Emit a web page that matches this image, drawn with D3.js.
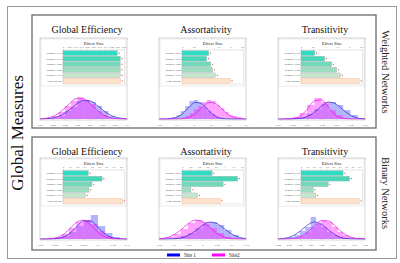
<!DOCTYPE html>
<html><head><meta charset="utf-8">
<script src="https://cdn.jsdelivr.net/npm/d3@7"></script>
<style>body{margin:0;background:#fff}svg{display:block;font-family:"Liberation Serif","Times New Roman",serif}</style>
</head><body><svg id="c" width="400" height="263"></svg>
<script>
// ---------- data ----------
const measures = ["Global Efficiency", "Assortativity", "Transitivity"];
const networks = ["Weighted Networks", "Binary Networks"];
const sites = ["Site 1", "Site2"];
const densityLabels = ["Density: 0.10", "Density: 0.15", "Density: 0.20", "Density: 0.25", "Density: 0.30", "Non-Thresh."];

// effect sizes (inset bars)
const effW_GE = [0.45, 0.475, 0.475, 0.475, 0.475, 0.475];
const effW_AS = [1.11, 1.02, 1.19, 1.27, 1.39, 2.0];
const effW_TR = [0.57, 0.98, 1.27, 1.48, 1.64, 2.42];
const effB_GE = [0.35, 0.54, 0.40, 0.36, 0.31, 0.82];
const effB_AS = [0.71, 1.31, 0.97, 0.21, 0.37, 0.90];
const effB_TR = [0.65, 0.75, 0.42, 0.19, 0.23, 0.90];

// effect-size axis tick labels
const effTicksW_GE = ["0","0.05","0.10","0.15","0.20","0.25","0.30","0.35","0.40","0.45","0.50"];
const effTicksW_AS = ["0","0.5","1","1.5","2","2.5"];
const effTicksW_TR = ["0","0.5","1","1.5","2","2.5"];
const effTicksB_GE = ["0","0.1","0.2","0.3","0.4","0.5","0.6","0.7","0.8"];
const effTicksB_AS = ["0","0.2","0.4","0.6","0.8","1","1.2","1.4"];
const effTicksB_TR = ["0","0.1","0.2","0.3","0.4","0.5","0.6","0.7","0.8","0.9"];

// histogram x-axis tick labels
const histTicksW_GE = ["0.23","0.24","0.25","0.26","0.27","0.28","0.29","0.3"];
const histTicksW_AS = ["-0.2","-0.1","0","0.1","0.2","0.3"];
const histTicksW_TR = ["0.01","0.02","0.03","0.04","0.05","0.06","0.07"];
const histTicksB_GE = ["0.08","0.085","0.09","0.095","0.1","0.105","0.11"];
const histTicksB_AS = ["-0.15","-0.1","-0.05","0","0.05","0.1","0.15"];
const histTicksB_TR = ["0.44","0.45","0.46","0.47","0.48","0.49","0.5","0.51","0.52"];

// histogram bins (start, width) and counts per site
const binsW_GE = [0.23, 0.005];
const histW_GE_s1 = [0,1,1,3,8,12,18,19,17,13,8,3,1,0];
const histW_GE_s2 = [0,1,3,7,13,18,22,19,15,8,4,1,0,0];
const binsW_AS = [-0.2, 0.025];
const histW_AS_s1 = [0,0,1,2,4,8,13,18,19,17,12,8,5,2,1,0,0,0,0,0];
const histW_AS_s2 = [0,0,0,0,0,1,3,6,10,13,17,19,18,14,11,7,4,3,2,0];
const binsW_TR = [0.01, 0.005];
const histW_TR_s1 = [0,0,1,2,5,10,15,17,14,9,4,1];
const histW_TR_s2 = [0,1,2,6,14,21,17,9,4,1,0,0];
const binsB_GE = [0.08, 0.0025];
const histB_GE_s1 = [0,0,1,3,7,13,19,24,13,6,2,0];
const histB_GE_s2 = [0,1,2,5,11,17,19,15,8,3,1,0];
const binsB_AS = [-0.15, 0.025];
const histB_AS_s1 = [0,0,1,3,6,11,15,17,14,9,4,1];
const histB_AS_s2 = [1,2,5,10,16,19,17,11,6,2,1,0];
const binsB_TR = [0.44, 0.005];
const histB_TR_s1 = [0,1,2,4,8,12,22,15,12,7,4,2,1,0,0,0];
const histB_TR_s2 = [0,0,0,1,3,7,12,16,19,17,12,7,4,2,1,1];

// density curves, read at 13 evenly spaced points across each x-axis
const curveW_GE_s1 = [0.1,0.4,1.4,4.0,8.8,14.8,18.7,17.9,12.9,7.0,2.9,0.9,0.2];
const curveW_GE_s2 = [0.2,0.9,3.3,8.1,14.8,20.3,20.2,14.7,7.9,3.1,0.9,0.2,0.0];
const curveW_AS_s1 = [0,0.1,0.8,3.8,10.6,16.6,14.7,7.3,2.0,0.3,0,0,0];
const curveW_AS_s2 = [0,0,0,0.2,1.4,5.3,12.0,16.8,14.6,7.8,2.6,0.5,0.1];
const curveW_TR_s1 = [0,0,0.1,0.5,2.3,6.6,12.8,16.9,15.0,9.0,3.7,1.0,0.2];
const curveW_TR_s2 = [0,0,0.4,2.7,9.4,18.0,19.1,11.2,3.6,0.6,0.1,0,0];
const curveB_GE_s1 = [0,0,0.2,1.4,5.0,11.9,18.1,18.0,11.5,4.8,1.3,0.2,0];
const curveB_GE_s2 = [0,0.1,0.8,3.5,9.5,16.5,18.8,13.9,6.6,2.0,0.4,0.1,0];
const curveB_AS_s1 = [0,0,0.3,1.1,3.5,8.0,13.6,16.9,15.4,10.3,5.0,1.8,0.5];
const curveB_AS_s2 = [0.3,1.2,3.9,9.0,15.2,18.9,17.3,11.5,5.6,2.1,0.6,0.1,0];
const curveB_TR_s1 = [0.1,0.8,2.9,7.6,13.6,17.0,14.7,8.8,3.6,1.0,0.2,0,0];
const curveB_TR_s2 = [0,0.1,0.5,2.1,6.3,12.9,18.3,18.0,12.2,5.7,1.9,0.4,0.1];

// ---------- styles ----------
const barColors = ["#2fdcc2", "#48d7b6", "#74d9bb", "#9ddcbf", "#c6e7ce", "#fde2cc"];
const barStrokes = ["#9aa", "#9aa", "#9aa", "#9aa", "#aab", "#f2a878"];
const siteFill = ["#5a5aff", "#ff2cff"];
const siteLine = ["#2424d0", "#e010e0"];

const rows = [
  { net: networks[0], py: 15, fy: 38, ty: 32.5, ny: 72, charts: [
    { eff: effW_GE, et: effTicksW_GE, emax: 0.51, ht: histTicksW_GE, bins: binsW_GE, s1: histW_GE_s1, s2: histW_GE_s2, c1: curveW_GE_s1, c2: curveW_GE_s2 },
    { eff: effW_AS, et: effTicksW_AS, emax: 2.55, ht: histTicksW_AS, bins: binsW_AS, s1: histW_AS_s1, s2: histW_AS_s2, c1: curveW_AS_s1, c2: curveW_AS_s2 },
    { eff: effW_TR, et: effTicksW_TR, emax: 2.55, ht: histTicksW_TR, bins: binsW_TR, s1: histW_TR_s1, s2: histW_TR_s2, c1: curveW_TR_s1, c2: curveW_TR_s2 } ] },
  { net: networks[1], py: 137, fy: 158, ty: 155, ny: 193, charts: [
    { eff: effB_GE, et: effTicksB_GE, emax: 0.85, ht: histTicksB_GE, bins: binsB_GE, s1: histB_GE_s1, s2: histB_GE_s2, c1: curveB_GE_s1, c2: curveB_GE_s2 },
    { eff: effB_AS, et: effTicksB_AS, emax: 1.45, ht: histTicksB_AS, bins: binsB_AS, s1: histB_AS_s1, s2: histB_AS_s2, c1: curveB_AS_s1, c2: curveB_AS_s2 },
    { eff: effB_TR, et: effTicksB_TR, emax: 0.95, ht: histTicksB_TR, bins: binsB_TR, s1: histB_TR_s1, s2: histB_TR_s2, c1: curveB_TR_s1, c2: curveB_TR_s2 } ] }
];
const colX = [40, 159, 278];
const FW = 87, FH = 82;

const svg = d3.select("#c");

// outer frame
svg.append("rect").attr("x", 7.5).attr("y", 6.5).attr("width", 389).attr("height", 252)
  .attr("fill", "none").attr("stroke", "#9a9a9a").attr("stroke-width", 1);

svg.append("text").attr("transform", "translate(17,133) rotate(-90)")
  .attr("text-anchor", "middle").attr("dy", "0.35em").attr("font-size", 17).attr("fill", "#111")
  .text("Global Measures");

rows.forEach(row => {
  svg.append("rect").attr("x", 32).attr("y", row.py).attr("width", 344).attr("height", 113)
    .attr("fill", "none").attr("stroke", "#6a6a6a").attr("stroke-width", 1.3);
  svg.append("text").attr("transform", `translate(386,${row.ny}) rotate(90)`)
    .attr("text-anchor", "middle").attr("dy", "0.35em").attr("font-size", 10.5).attr("fill", "#222")
    .text(row.net);

  row.charts.forEach((ch, ci) => {
    const fx = colX[ci], fy = row.fy;
    const g = svg.append("g");
    // title
    g.append("text").attr("x", fx + 47).attr("y", row.ty).attr("text-anchor", "middle")
      .attr("font-size", 10).attr("fill", "#111").text(measures[ci]);

    // histogram axes
    const tv = ch.ht.map(Number);
    const x = d3.scaleLinear().domain([tv[0], tv[tv.length - 1]]).range([fx, fx + FW]);
    const base = fy + FH - 1;
    const y = d3.scaleLinear().domain([0, 26]).range([base, base - 26]);

    [ch.s1, ch.s2].forEach((cnt, si) => {
      g.append("g").selectAll("rect").data(cnt).join("rect")
        .attr("x", (d, i) => x(ch.bins[0] + i * ch.bins[1]))
        .attr("width", x(ch.bins[0] + ch.bins[1]) - x(ch.bins[0]))
        .attr("y", d => y(d)).attr("height", d => base - y(d))
        .attr("fill", siteFill[si]).attr("fill-opacity", 0.45);
    });
    const dx = (tv[tv.length - 1] - tv[0]) / 12;
    [ch.c1, ch.c2].forEach((cv, si) => {
      const line = d3.line().x((d, i) => x(tv[0] + i * dx)).y(d => y(d)).curve(d3.curveMonotoneX);
      g.append("path").attr("d", line(cv)).attr("fill", "none")
        .attr("stroke", siteLine[si]).attr("stroke-width", 0.7);
    });

    // frame
    g.append("rect").attr("x", fx).attr("y", fy).attr("width", FW).attr("height", FH)
      .attr("fill", "none").attr("stroke", "#c4c4c4").attr("stroke-width", 0.7);
    const xa = g.append("g").attr("transform", `translate(0,${fy + FH})`)
      .call(d3.axisBottom(x).tickValues(tv).tickSize(-1.5).tickFormat((d, i) => ch.ht[i]));
    xa.select(".domain").remove();
    xa.selectAll("line").attr("stroke", "#aaa").attr("stroke-width", 0.4);
    xa.selectAll("text").attr("font-size", 2.9).attr("fill", "#444").attr("dy", "1em")
      .attr("font-family", "Liberation Serif, serif");
    const xt = g.append("g").attr("transform", `translate(0,${fy})`)
      .call(d3.axisTop(x).tickValues(tv).tickSize(-1.5).tickFormat(""));
    xt.select(".domain").remove();
    xt.selectAll("line").attr("stroke", "#aaa").attr("stroke-width", 0.4);

    // inset bar chart
    g.append("rect").attr("x", fx + 1).attr("y", fy + 1).attr("width", FW - 2).attr("height", 47)
      .attr("fill", "#fff").attr("stroke", "#d8d8d8").attr("stroke-width", 0.5);
    const px0 = fx + 23, px1 = fx + FW - 2.5, py0 = fy + 12, py1 = fy + 46;
    g.append("rect").attr("x", px0).attr("y", py0).attr("width", px1 - px0).attr("height", py1 - py0)
      .attr("fill", "#fff").attr("stroke", "#cfcfcf").attr("stroke-width", 0.5);
    const et = ch.et.map(Number);
    const xe = d3.scaleLinear().domain([0, ch.emax]).range([px0, px1]);
    const yb = d3.scaleBand().domain(densityLabels).range([py0 + 0.5, py1 - 0.5]).paddingInner(0.14).paddingOuter(0.05);
    g.append("text").attr("x", (px0 + px1) / 2).attr("y", fy + 7.3).attr("text-anchor", "middle")
      .attr("font-size", 4.6).attr("fill", "#222").text("Effect Size");
    const ea = g.append("g").attr("transform", `translate(0,${py0})`)
      .call(d3.axisTop(xe).tickValues(et).tickSize(1).tickPadding(0.6).tickFormat((d, i) => ch.et[i]));
    ea.select(".domain").remove();
    ea.selectAll("line").attr("stroke", "#999").attr("stroke-width", 0.3);
    ea.selectAll("text").attr("font-size", 2.3).attr("fill", "#555").attr("font-family", "Liberation Serif, serif");
    g.append("g").selectAll("rect").data(ch.eff).join("rect")
      .attr("x", xe(0)).attr("y", (d, i) => yb(densityLabels[i]))
      .attr("width", d => xe(d) - xe(0)).attr("height", yb.bandwidth())
      .attr("fill", (d, i) => barColors[i]).attr("stroke", (d, i) => barStrokes[i]).attr("stroke-width", 0.35);
    g.append("g").selectAll("circle").data(ch.eff).join("circle")
      .attr("cx", d => xe(d) + 1.8).attr("cy", (d, i) => yb(densityLabels[i]) + yb.bandwidth() / 2)
      .attr("r", 0.6).attr("fill", "#e83030");
    g.append("g").selectAll("text").data(densityLabels).join("text")
      .attr("x", px0 - 1).attr("y", d => yb(d) + yb.bandwidth() / 2).attr("dy", "0.35em")
      .attr("text-anchor", "end").attr("font-size", 2.9).attr("fill", "#333").text(d => d);
  });
});

// legend
const lg = svg.append("g");
[[167, 184], [212, 229]].forEach((p, i) => {
  lg.append("rect").attr("x", p[0]).attr("y", 253.5).attr("width", 13).attr("height", 3)
    .attr("fill", i === 0 ? "#0000ff" : "#ff00ff");
  lg.append("text").attr("x", p[1]).attr("y", 256.8).attr("font-size", 5.2).attr("fill", "#222").text(sites[i]);
});
</script></body></html>
